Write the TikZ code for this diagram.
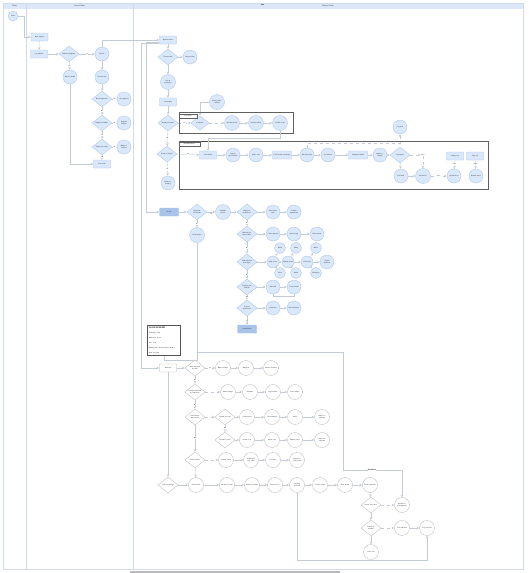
\documentclass[tikz,border=0pt]{standalone}
\usepackage{tikz}
\usetikzlibrary{positioning,arrows,shapes.geometric}
\definecolor{lanebg}{HTML}{DCE8FA}
\definecolor{laneline}{HTML}{CFDAEC}
\definecolor{actfill}{HTML}{DAE8FC}
\definecolor{actline}{HTML}{A8C0E4}
\definecolor{keyfill}{HTML}{A9C4EB}
\definecolor{wline}{HTML}{B4B4B4}
\definecolor{flow}{HTML}{C3CBD7}
\begin{document}
\begin{tikzpicture}[x=1pt,y=-1pt,>=stealth,font=\sffamily\fontsize{1.6}{1.9}\selectfont,
act/.style={circle,fill=actfill,draw=actline,line width=.3pt,minimum size=14pt,inner sep=0pt,text width=11pt,align=center},
dec/.style={diamond,fill=actfill,draw=actline,line width=.3pt,minimum width=20pt,minimum height=16pt,inner sep=0pt,text width=13pt,align=center},
proc/.style={rectangle,rounded corners=.5pt,fill=actfill,draw=actline,line width=.3pt,minimum width=17pt,minimum height=8pt,inner sep=0pt,text width=15pt,align=center},
keyproc/.style={proc,fill=keyfill},
wact/.style={act,fill=white,draw=wline,minimum size=15pt,text width=12pt},
wdec/.style={dec,fill=white,draw=wline},
wproc/.style={proc,fill=white,draw=wline},
flowl/.style={draw=flow,line width=.3pt,->},
flowd/.style={flowl,dashed},
flowp/.style={draw=flow,line width=.3pt},
lbl/.style={fill=white,inner sep=.3pt,font=\sffamily\fontsize{1.4}{1.6}\selectfont},
grp/.style={draw=gray!75!black,line width=.9pt},
tab/.style={rectangle,draw=gray!75!black,fill=white,line width=.3pt,minimum width=18pt,minimum height=4pt,inner sep=0pt}]
\useasboundingbox (0,0) rectangle (528,573);
\fill[white] (0,0) rectangle (528,573);
\fill[lanebg] (3,3) rectangle (523,9);
\draw[laneline,line width=.4pt] (3,3) rectangle (523,569);
\draw[laneline,line width=.4pt] (26,3) -- (26,569);
\draw[laneline,line width=.4pt] (133,3) -- (133,569);
\draw[gray,line width=.5pt] (260.5,4) -- (263.5,4);
\fill[gray!55] (130,570.5) rectangle (340,573);
\node[font=\sffamily\fontsize{1.8}{2}\selectfont] (h1) at (14.5,6) {Client};
\node[font=\sffamily\fontsize{1.8}{2}\selectfont] (h2) at (79.5,6) {Service Desk};
\node[font=\sffamily\fontsize{1.8}{2}\selectfont] (h3) at (328,6) {Delivery Team};

\node[act,minimum size=10pt,text width=8pt] (start) at (13,16) {Start};

\node[proc] (a1) at (39.5,37) {New request};
\node[proc] (a2) at (39,54) {Log request};
\node[dec] (a3) at (69,54) {Details complete?};
\node[act] (a4) at (70,77) {Ask for details};
\node[act] (a5) at (102,54) {Review};
\node[act] (a6) at (102,77) {Check scope};
\node[dec] (a7) at (102,99) {Needs approval?};
\node[act] (a8) at (124,99) {Get approval};
\node[dec] (a9) at (102,123) {Budget available?};
\node[act] (a10) at (124,123) {Request budget};
\node[dec] (a11) at (102,147) {Resources ready?};
\node[act] (a12) at (124,147) {Assign resources};
\node[proc] (a13) at (102,164) {Plan work};

\draw[flowl] (start.east) -- ++(6,0) |- (a1.west);
\draw[flowl] (a1) -- (a2);
\draw[flowl] (a2) -- (a3);
\draw[flowl] (a3) -- node[lbl]{Yes} (a5);
\draw[flowl] (a3) -- node[lbl]{No} (a4);
\draw[flowl] (a4.south) |- (a13.west);
\draw[flowl] (a5) -- (a6);
\draw[flowl] (a6) -- (a7);
\draw[flowl] (a7) -- node[lbl]{Yes} (a8);
\draw[flowl] (a7) -- node[lbl]{No} (a9);
\draw[flowl] (a9) -- node[lbl]{No} (a10);
\draw[flowl] (a9) -- node[lbl]{Yes} (a11);
\draw[flowl] (a11) -- node[lbl]{No} (a12);
\draw[flowl] (a11) -- node[lbl]{Yes} (a13);

\node[proc] (b1) at (168,40) {Receive ticket};
\node[dec] (b2) at (168,57) {Ticket valid?};
\node[act] (b3) at (190,57) {Reject ticket};
\node[act,minimum size=15pt] (b4) at (168,82) {Set up workspace};
\node[proc] (b5) at (168,102) {Create plan};
\node[act,minimum size=15pt] (b6) at (217,102) {Notify stakeholders};
\node[dec] (b7) at (168,123) {Needs pre-check?};
\node[dec,minimum width=18pt,minimum height=14pt] (b8) at (200,123) {Is urgent?};
\node[act,minimum size=15pt] (b9) at (232,123) {Run quick test};
\node[act,minimum size=15pt] (b10) at (256,123) {Review results};
\node[act,minimum size=15pt] (b11) at (280,123) {Confirm scope};
\node[dec] (b12) at (167,154) {Ready to build?};
\node[act] (b13) at (168,183) {Return to backlog};

\draw[flowl] (a5.north) |- (b1.west);
\draw[flowl] (b1) -- (b2);
\draw[flowl] (b2) -- (b3);
\draw[flowl] (b2) -- (b4);
\draw[flowl] (b4) -- (b5);
\draw[flowl] (b5) -- (b7);
\draw[flowl] (b6.west) -| (b8.north);
\draw[flowd] (b7) -- node[lbl]{Yes} (b8);
\draw[flowd] (b8) -- (b9);
\draw[flowl] (b9) -- (b10);
\draw[flowl] (b10) -- (b11);
\draw[flowl] (b7) -- node[lbl]{No} (b12);
\draw[flowl] (b12) -- node[lbl]{No} (b13);

\draw[grp] (179,112) rectangle (293,133);
\node[tab] (g1) at (188,116) {Pre-check};
\draw[grp] (179,141) rectangle (488,189);
\node[tab,minimum width=21pt] (g2) at (189.5,144.5) {Implementation};
\node[lbl,anchor=west] (g2n) at (201,142.5) {Main stream};

\node[proc] (c1) at (208,155) {Start build};
\node[act] (c2) at (233,155) {Prepare environment};
\node[act] (c3) at (256,155) {Write code};
\node[proc,minimum width=19pt,text width=17pt] (c4) at (282,155) {Code review and merge};
\node[act] (c5) at (307,155) {Run unit tests};
\node[act] (c6) at (328,155) {Fix defects};
\node[proc,minimum width=19pt,text width=17pt] (c7) at (358,155) {Integration build};
\node[act] (c8) at (380,155) {Deploy to staging};
\node[dec] (c9) at (400,155) {Tests pass?};
\node[act] (c10) at (400,127) {Log issue};
\node[act] (c11) at (401,176) {Roll back};
\node[act,minimum size=15pt] (c12) at (423,176) {Re-test fix};
\node[act] (c13) at (454,176) {Update docs};
\node[act] (c14) at (476,176) {Release notes};
\node[proc] (c15) at (455,156) {Change log};
\node[proc] (c16) at (475,156) {Sign-off};
\node[lbl] (m1) at (423,155) {Other};

\draw[flowl] (b11.south) -- ++(0,7) -| (c1.north);
\draw[flowl] (b12) -- node[lbl]{Yes} (c1);
\draw[flowl] (c1) -- (c2);
\draw[flowl] (c2) -- (c3);
\draw[flowl] (c3) -- (c4);
\draw[flowl] (c4) -- (c5);
\draw[flowl] (c5) -- (c6);
\draw[flowl] (c6) -- (c7);
\draw[flowl] (c7) -- (c8);
\draw[flowl] (c8) -- (c9);
\draw[flowd] (c5.north) -- ++(0,-5) -| (c10.south);
\draw[flowl] (c9) -- (c11);
\draw[flowd] (c9.east) -- (m1);
\draw[flowd] (m1) -- (c12);
\draw[flowl] (c11) -- (c12);
\draw[flowd] (c12) -- node[lbl]{Done} (c13);
\draw[flowl] (c15) -- node[lbl]{input} (c13);
\draw[flowl] (c16) -- node[lbl]{output} (c14);

\node[keyproc,minimum width=19pt] (d1) at (169,212) {Go-live};
\node[dec] (d2) at (197,212) {Approved for release?};
\node[act,minimum size=15pt] (d3) at (197,235) {Hold release};
\node[act,minimum size=15pt] (d4) at (223,212) {Schedule release};
\node[dec] (d5) at (247,212) {Deploy to production?};
\node[act] (d6) at (273,212) {Run smoke tests};
\node[act] (d7) at (294,212) {Confirm deployment};
\node[dec] (d8) at (247,234) {Monitor systems stable?};
\node[act] (d9) at (273,234) {Collect metrics};
\node[act] (d10) at (294,234) {Review logs};
\node[act] (d11) at (317,234) {Share status};
\node[dec] (d12) at (247,262) {Users affected by change?};
\node[act,minimum size=12pt,text width=10pt] (d13) at (273,262) {Send notice};
\node[act,minimum size=11pt,text width=9pt] (d14) at (280,248) {Email};
\node[act,minimum size=11pt,text width=9pt] (d15) at (280,273) {Chat};
\node[act,minimum size=12pt,text width=10pt] (d16) at (288,262) {Update portal};
\node[act,minimum size=11pt,text width=9pt] (d17) at (296,248) {FAQ};
\node[act,minimum size=11pt,text width=9pt] (d18) at (296,273) {Guide};
\node[act,minimum size=12pt,text width=10pt] (d19) at (307,262) {Train staff};
\node[act,minimum size=11pt,text width=9pt] (d20) at (316,248) {Demo};
\node[act,minimum size=11pt,text width=9pt] (d21) at (316,273) {Workshop};
\node[act] (d22) at (327,262) {Gather feedback};
\node[dec] (d23) at (247,287) {Support load normal?};
\node[act] (d24) at (273,287) {Add staff};
\node[act] (d25) at (294,287) {Track tickets};
\node[dec] (d26) at (247,308) {Project goals met?};
\node[act] (d27) at (273,308) {Hold retro};
\node[act] (d28) at (294,308) {Record lessons};
\node[keyproc,minimum width=19pt] (d29) at (247,329) {Close project};

\draw[flowl] (b1.south west) ++(0,-2) -- ++(-13,0) |- (d1.west);
\draw[flowl] (d1) -- (d2);
\draw[flowl] (d2) -- node[lbl,below=1pt]{Yes} (d4);
\draw[flowl] (d2) -- node[lbl]{No} (d3);
\draw[flowl] (d4) -- (d5);
\draw[flowl] (d5) -- (d6);
\draw[flowl] (d6) -- (d7);
\draw[flowl] (d5) -- node[lbl]{No} (d8);
\draw[flowl] (d8) -- (d9);
\draw[flowl] (d9) -- (d10);
\draw[flowl] (d10) -- (d11);
\draw[flowl] (d8) -- node[lbl]{No} (d12);
\draw[flowl] (d12) -- (d13);
\draw[flowl] (d13) -- (d14);
\draw[flowl] (d13) -- (d15);
\draw[flowl] (d13) -- (d16);
\draw[flowl] (d16) -- (d17);
\draw[flowl] (d16) -- (d18);
\draw[flowl] (d16) -- (d19);
\draw[flowl] (d19) -- (d20);
\draw[flowl] (d19) -- (d21);
\draw[flowl] (d19) -- (d22);
\draw[flowl] (d12) -- node[lbl]{No} (d23);
\draw[flowl] (d23) -- (d24);
\draw[flowl] (d24) -- (d25);
\draw[flowp] (d24.south) -- ++(0,2) -| (d25.south);
\draw[flowl] (d23) -- node[lbl]{No} (d26);
\draw[flowl] (d26) -- (d27);
\draw[flowl] (d27) -- (d28);
\draw[flowl] (d26) -- node[lbl]{Yes} (d29);

\node[draw=gray!65!black,line width=1.1pt,fill=white,anchor=north west,minimum width=33pt,minimum height=27pt,inner sep=1.5pt,text width=30pt,align=left,font=\sffamily\fontsize{1.6}{5}\selectfont] (legend) at (147,325) {{\bfseries\fontsize{2.2}{5}\selectfont FLOW LEGEND}\\Rectangle: task\\Diamond: choice\\Line: flow\\Dashed link: optional step or branch\\Blue: key step};

\coordinate (k1) at (197,352);
\coordinate (k2) at (343,352);
\coordinate (k3) at (343,470);
\draw[flowp] (legend.south) -- ++(0,4) -| (k1);

\node[wproc] (e1) at (168,368) {Aftercare};
\node[wdec] (e2) at (195,368) {Issue reported by user?};
\node[wact] (e3) at (223,368) {Open incident};
\node[wact] (e4) at (246,368) {Diagnose};
\node[wact] (e5) at (271,368) {Resolve incident};
\node[wdec] (e6) at (195,392) {Change requested by customer?};
\node[wact] (e7) at (228,392) {Assess change};
\node[wact] (e8) at (250,392) {Estimate};
\node[wact] (e9) at (273,392) {Agree terms};
\node[wact] (e10) at (295,392) {Plan change};
\node[wdec] (e11) at (195,417) {Performance issue found?};
\node[wdec] (e12) at (225,417) {Caused by load?};
\node[wact] (e13) at (247,417) {Scale servers};
\node[wact] (e14) at (272,417) {Tune settings};
\node[wact] (e15) at (295,417) {Verify};
\node[wact] (e16) at (322,417) {Report to customer};
\node[wdec] (e17) at (225,440) {Caused by code?};
\node[wact] (e18) at (247,440) {Profile code};
\node[wact] (e19) at (272,440) {Patch code};
\node[wact] (e20) at (295,440) {Deploy patch};
\node[wact] (e21) at (322,440) {Report to customer};
\node[wdec] (e22) at (195,460) {Security alert?};
\node[wact] (e23) at (226,460) {Contain threat};
\node[wact] (e24) at (251,460) {Investigate root cause};
\node[wact] (e25) at (273,460) {Fix issue};
\node[wact] (e26) at (297,460) {Report security event};
\node[wdec] (e27) at (168,485) {Contract ending?};
\node[wact] (e28) at (196,485) {Final review};
\node[wact] (e29) at (227,485) {Archive records};
\node[wact] (e30) at (252,485) {Hand over assets};
\node[wact] (e31) at (275,485) {Final invoice};
\node[wact] (e32) at (297,485) {Payment received?};
\node[wact] (e33) at (320,485) {Close account};
\node[wact] (e34) at (345,485) {Send survey};
\node[wact] (e35) at (370,485) {Thank customer};
\node[wact] (e36) at (402,505) {Escalate to management};
\node[wdec] (e37) at (371,505) {Survey score low?};
\node[wdec] (e38) at (371,528) {Follow-up needed?};
\node[wact] (e39) at (371,552) {Close case};
\node[wact] (e40) at (402,528) {Call customer};
\node[wact] (e41) at (427,528) {Log outcome};

\draw[flowl] (b1.south west) ++(0,-1) -- ++(-18,0) |- (e1.west);
\draw[flowl] (d3.south) -- (k1) -- (k2) -- (k3) -| (e36.north);
\node[lbl,font=\sffamily\bfseries\fontsize{1.8}{2}\selectfont] (esc) at (372,470) {Escalation};

\draw[flowl] (e1) -- (e2);
\draw[flowd] (e2) -- node[lbl]{Yes} (e3);
\draw[flowl] (e3) -- (e4);
\draw[flowl] (e4) -- (e5);
\draw[flowl] (e2) -- node[lbl]{No} (e6);
\draw[flowd] (e6) -- (e7);
\draw[flowl] (e7) -- (e8);
\draw[flowl] (e8) -- (e9);
\draw[flowl] (e9) -- (e10);
\draw[flowl] (e6) -- node[lbl]{No} (e11);
\draw[flowd] (e11) -- (e12);
\draw[flowd] (e12) -- (e13);
\draw[flowl] (e13) -- (e14);
\draw[flowl] (e14) -- (e15);
\draw[flowl] (e15) -- (e16);
\draw[flowd] (e12) -- node[lbl]{No} (e17);
\draw[flowd] (e17) -- (e18);
\draw[flowl] (e18) -- (e19);
\draw[flowl] (e19) -- (e20);
\draw[flowl] (e20) -- (e21);
\draw[flowl] (e11) -- node[lbl]{No} (e22);
\draw[flowd] (e22) -- (e23);
\draw[flowl] (e23) -- (e24);
\draw[flowl] (e24) -- (e25);
\draw[flowl] (e25) -- (e26);
\draw[flowl] (e22) -- (e28);
\draw[flowl] (e1) -- (e27);
\draw[flowl] (e27) -- (e28);
\draw[flowl] (e28) -- (e29);
\draw[flowl] (e29) -- (e30);
\draw[flowl] (e30) -- (e31);
\draw[flowl] (e31) -- (e32);
\draw[flowl] (e32) -- (e33);
\draw[flowl] (e33) -- (e34);
\draw[flowl] (e34) -- (e35);
\draw[flowl] (e35) -- (e37);
\draw[flowd] (e37) -- (e36);
\draw[flowl] (e37) -- (e38);
\draw[flowl] (e38) -- (e39);
\draw[flowd] (e38) -- (e40);
\draw[flowl] (e40) -- (e41);
\draw[flowl] (e32.south) -- ++(0,67.5) -| (e41.south);
\end{tikzpicture}
\end{document}
